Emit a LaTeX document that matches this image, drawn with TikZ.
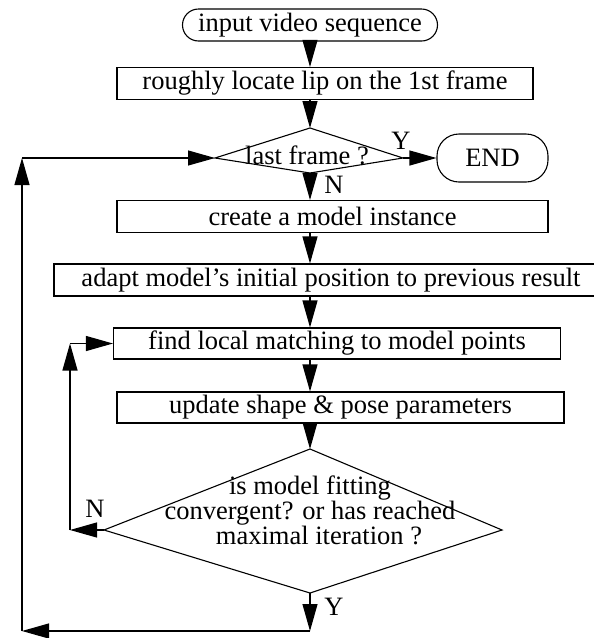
\documentclass[tikz,border=0pt]{standalone}
\usepackage{fontspec}
\setmainfont{Liberation Serif}
\usetikzlibrary{arrows.meta}
\newcommand\figfont{\fontsize{26.5pt}{24pt}\selectfont}
\begin{document}
\begin{tikzpicture}[x=1pt,y=-1pt,line width=1.1pt,
  every node/.style={font=\figfont},
  box/.style={draw,rectangle,inner sep=0pt},
  term/.style={draw,rectangle,inner sep=0pt},
  lbl/.style={inner sep=0pt},
  arr/.style={-{Triangle[length=27pt,width=15pt]}}]
\useasboundingbox (0,0) rectangle (594,638);
\coordinate (axis) at (310,0);
% nodes
\node[term,rounded corners=16pt,minimum width=255pt,minimum height=32pt] (start) at (310,25) {input video sequence};
\node[box,minimum width=416pt,minimum height=32pt] (box2) at (325,83.5) {roughly locate lip on the 1st frame};
% decision 1
\coordinate (d1t) at (310,128);
\coordinate (d1l) at (215,158);
\coordinate (d1r) at (403,158);
\coordinate (d1b) at (310,173);
\draw (d1t) -- (d1r) -- (d1b) -- (d1l) -- cycle;
\node[lbl] (d1) at (307,155) {last frame ?};
\node[term,rounded corners=22pt,minimum width=111pt,minimum height=48pt] (end) at (492.5,158) {END};
\node[box,minimum width=431pt,minimum height=32pt] (box3) at (332.5,216.5) {create a model instance};
\node[box,minimum width=542pt,minimum height=32pt] (box4) at (325,280) {\hspace*{12pt}adapt model’s initial position to previous result};
\node[box,minimum width=447pt,minimum height=31pt] (box5) at (337,343.5) {find local matching to model points};
\node[box,minimum width=447pt,minimum height=31pt] (box6) at (340.5,407.5) {update shape \& pose parameters};
% decision 2
\coordinate (d2t) at (310,449);
\coordinate (d2l) at (104,530);
\coordinate (d2r) at (502,530);
\coordinate (d2b) at (310,593);
\draw (d2t) -- (d2r) -- (d2b) -- (d2l) -- cycle;
\node[lbl,align=center] (d2) at (310,510) {is model fitting\\convergent? or has reached\\\hspace*{18pt}maximal iteration ?};
% labels
\node[lbl] (y1) at (401,141) {Y};
\node[lbl] (n1) at (334,185) {N};
\node[lbl] (n2) at (95,509) {N};
\node[lbl] (y2) at (334,607) {Y};
% main flow
\draw[arr] (start.south) -- (start.south |- box2.north);
\draw[arr] (box2.south -| axis) -- (d1t);
\draw[arr] (d1r) -- (d1r -| end.west);
\draw[arr] (d1b) -- (d1b |- box3.north);
\draw[arr] (box3.south -| axis) -- (box4.north -| axis);
\draw[arr] (box4.south -| axis) -- (box5.north -| axis);
\draw[arr] (box5.south -| axis) -- (box6.north -| axis);
\draw[arr] (box6.south -| axis) -- (d2t);
% inner loop
\coordinate (c4) at (70,530);
\coordinate (c5) at (70,343.5);
\draw[arr] (d2l) -- (c4);
\draw[arr] (c4) -- (c5);
\draw[arr] (c5) -- (c5 -| box5.west);
% outer loop
\coordinate (c3) at (310,631);
\coordinate (c2) at (22,631);
\coordinate (c1) at (22,158);
\draw[arr] (d2b) -- (c3);
\draw[arr] (c3) -- (c2);
\draw[arr] (c2) -- (c1);
\draw[arr] (c1) -- (d1l);
\end{tikzpicture}
\end{document}
